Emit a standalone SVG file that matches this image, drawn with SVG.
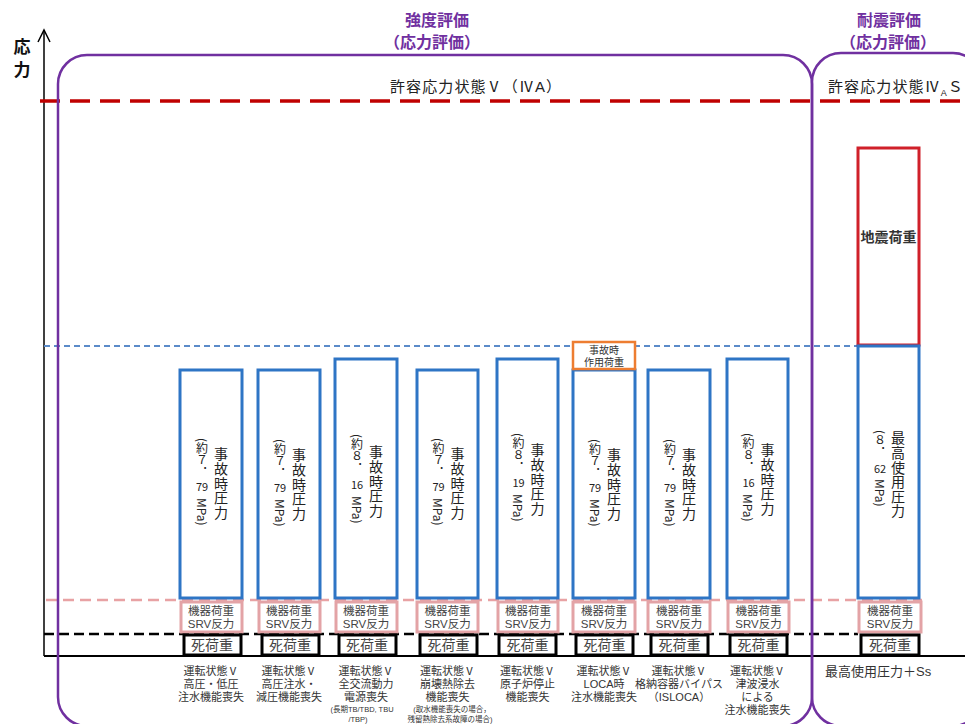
<svg xmlns="http://www.w3.org/2000/svg" width="965" height="724" viewBox="0 0 965 724">
<style>
text{font-family:"Liberation Sans","Noto Sans CJK JP","Noto Sans CJK SC",sans-serif;}
.bg{fill:#fff}
.bar{fill:#fff;stroke:#2E75C5;stroke-width:3}
.pk{fill:#fff;stroke:#E3A3A6;stroke-width:3}
.dl{fill:#fff;stroke:#000;stroke-width:3}
.pu{fill:none;stroke:#7030A0;stroke-width:2.5}
.hd{font-size:16px;font-weight:bold;fill:#7030A0;text-anchor:middle}
.vr{font-family:"Noto Sans CJK JP",sans-serif;writing-mode:vertical-rl;font-size:14px;letter-spacing:0.6px;fill:#222}
.vl{font-family:"Noto Sans CJK JP",sans-serif;writing-mode:vertical-rl;font-size:12px;fill:#222}
.hz{font-family:"Noto Sans CJK JP",sans-serif;font-size:11px;text-anchor:middle;dominant-baseline:central;fill:#222}
.pt{font-size:11.5px;text-anchor:middle;fill:#444}
.dt{font-size:14px;text-anchor:middle;fill:#444}
.lb{font-size:11px;text-anchor:middle;fill:#333}
.sm{font-size:7.5px;text-anchor:middle;fill:#333}
.lim{font-size:15px;letter-spacing:1.1px;fill:#222}
</style>
<rect class="bg" x="0" y="0" width="965" height="724"/>

<g id="guides">
  <path d="M44 656 V30" stroke="#000" stroke-width="1.5" fill="none"/>
  <polyline points="38,42 44,30 50,42" stroke="#000" stroke-width="1.5" fill="none"/>
  <path d="M44 656 H965" stroke="#000" stroke-width="2" fill="none"/>
  <path d="M40 101 H965" stroke="#C00000" stroke-width="3.5" stroke-dasharray="20 10" fill="none"/>
  <path d="M44 346 H858" stroke="#5B8BC9" stroke-width="2" stroke-dasharray="6 4" fill="none"/>
  <path d="M46 600 H922" stroke="#E8A2A4" stroke-width="2.5" stroke-dasharray="11 6" fill="none"/>
  <path d="M44 634 H858" stroke="#000" stroke-width="2.5" stroke-dasharray="10 5" fill="none"/>
</g>

<g id="axis-label">
  <text font-size="17" font-weight="bold" fill="#111" text-anchor="middle"><tspan x="22" y="53">応</tspan><tspan x="22" y="76">力</tspan></text>
</g>

<g id="frame-strength">
  <rect class="pu" x="58" y="55" width="754" height="671" rx="29"/>
  <text class="hd"><tspan x="437" y="26">強度評価</tspan><tspan x="432" y="48">（応力評価）</tspan></text>
  <text class="lim" x="390" y="92">許容応力状態Ⅴ（ⅣA）</text>
</g>

<g id="frame-seismic">
  <rect class="pu" x="812" y="53" width="170" height="673" rx="29"/>
  <text class="hd"><tspan x="889" y="26">耐震評価</tspan><tspan x="888" y="48">（応力評価）</tspan></text>
  <text class="lim" x="828" y="92">許容応力状態Ⅳ<tspan font-size="9" dy="4">A</tspan><tspan dy="-4">Ｓ</tspan></text>
</g>

<g id="case1">
  <rect class="bar" x="180" y="370" width="62" height="228"/>
  <text class="vr" x="221" y="447">事故時圧力</text>
  <text class="vl" x="202" y="438">(約７．</text>
  <text class="hz" x="202" y="486">79</text>
  <text class="vl" x="202" y="498">MPa)</text>
  <rect class="pk" x="181" y="602" width="61" height="30"/>
  <text class="pt"><tspan x="211" y="615">機器荷重</tspan><tspan x="211" y="628">SRV反力</tspan></text>
  <rect class="dl" x="184" y="635" width="57" height="20"/>
  <text class="dt" x="212" y="650">死荷重</text>
  <text class="lb"><tspan x="211" y="675">運転状態Ⅴ</tspan><tspan x="211" y="688">高圧・低圧</tspan><tspan x="211" y="701">注水機能喪失</tspan></text>
</g>

<g id="case2">
  <rect class="bar" x="258" y="370" width="62" height="228"/>
  <text class="vr" x="299" y="448">事故時圧力</text>
  <text class="vl" x="280" y="439">(約７．</text>
  <text class="hz" x="280" y="487">79</text>
  <text class="vl" x="280" y="499">MPa)</text>
  <rect class="pk" x="259" y="602" width="61" height="30"/>
  <text class="pt"><tspan x="289" y="615">機器荷重</tspan><tspan x="289" y="628">SRV反力</tspan></text>
  <rect class="dl" x="262" y="635" width="57" height="20"/>
  <text class="dt" x="290" y="650">死荷重</text>
  <text class="lb"><tspan x="289" y="675">運転状態Ⅴ</tspan><tspan x="289" y="688">高圧注水・</tspan><tspan x="289" y="701">減圧機能喪失</tspan></text>
</g>

<g id="case3">
  <rect class="bar" x="335" y="359" width="62" height="239"/>
  <text class="vr" x="376" y="445">事故時圧力</text>
  <text class="vl" x="357" y="434">(約８．</text>
  <text class="hz" x="357" y="484">16</text>
  <text class="vl" x="357" y="496">MPa)</text>
  <rect class="pk" x="336" y="602" width="61" height="30"/>
  <text class="pt"><tspan x="366" y="615">機器荷重</tspan><tspan x="366" y="628">SRV反力</tspan></text>
  <rect class="dl" x="339" y="635" width="57" height="20"/>
  <text class="dt" x="367" y="650">死荷重</text>
  <text class="lb"><tspan x="366" y="675">運転状態Ⅴ</tspan><tspan x="366" y="688">全交流動力</tspan><tspan x="366" y="701">電源喪失</tspan></text>
  <text class="sm"><tspan x="362" y="712">(長期TB/TBD, TBU</tspan><tspan x="358" y="722">/TBP)</tspan></text>
</g>

<g id="case4">
  <rect class="bar" x="417" y="370" width="61" height="228"/>
  <text class="vr" x="457.5" y="447">事故時圧力</text>
  <text class="vl" x="438.5" y="438">(約７．</text>
  <text class="hz" x="438.5" y="486">79</text>
  <text class="vl" x="438.5" y="498">MPa)</text>
  <rect class="pk" x="417" y="602" width="61" height="30"/>
  <text class="pt"><tspan x="447.5" y="615">機器荷重</tspan><tspan x="447.5" y="628">SRV反力</tspan></text>
  <rect class="dl" x="420" y="635" width="57" height="20"/>
  <text class="dt" x="448.5" y="650">死荷重</text>
  <text class="lb"><tspan x="447.5" y="675">運転状態Ⅴ</tspan><tspan x="447.5" y="688">崩壊熱除去</tspan><tspan x="447.5" y="701">機能喪失</tspan></text>
  <text class="sm"><tspan x="452" y="712">(取水機能喪失の場合，</tspan><tspan x="450" y="722">残留熱除去系故障の場合)</tspan></text>
</g>

<g id="case5">
  <rect class="bar" x="497" y="359" width="61" height="239"/>
  <text class="vr" x="537.5" y="443">事故時圧力</text>
  <text class="vl" x="518.5" y="433">(約８．</text>
  <text class="hz" x="518.5" y="482">19</text>
  <text class="vl" x="518.5" y="494">MPa)</text>
  <rect class="pk" x="498" y="602" width="60" height="30"/>
  <text class="pt"><tspan x="528" y="615">機器荷重</tspan><tspan x="528" y="628">SRV反力</tspan></text>
  <rect class="dl" x="499" y="635" width="57" height="20"/>
  <text class="dt" x="527.5" y="650">死荷重</text>
  <text class="lb"><tspan x="527.5" y="675">運転状態Ⅴ</tspan><tspan x="527.5" y="688">原子炉停止</tspan><tspan x="527.5" y="701">機能喪失</tspan></text>
</g>

<g id="case6">
  <rect class="bar" x="573" y="370" width="62" height="228"/>
  <rect x="573" y="342" width="62" height="27" fill="#fff" stroke="#ED7D31" stroke-width="2.5"/>
  <text font-size="10" text-anchor="middle" fill="#333"><tspan x="604" y="354">事故時</tspan><tspan x="604" y="366">作用荷重</tspan></text>
  <text class="vr" x="614" y="448">事故時圧力</text>
  <text class="vl" x="595" y="439">(約７．</text>
  <text class="hz" x="595" y="487">79</text>
  <text class="vl" x="595" y="499">MPa)</text>
  <rect class="pk" x="573" y="602" width="62" height="30"/>
  <text class="pt"><tspan x="604" y="615">機器荷重</tspan><tspan x="604" y="628">SRV反力</tspan></text>
  <rect class="dl" x="576" y="635" width="57" height="20"/>
  <text class="dt" x="604.5" y="650">死荷重</text>
  <text class="lb"><tspan x="604" y="675">運転状態Ⅴ</tspan><tspan x="604" y="688">LOCA時</tspan><tspan x="604" y="701">注水機能喪失</tspan></text>
</g>

<g id="case7">
  <rect class="bar" x="648" y="370" width="62" height="228"/>
  <text class="vr" x="689" y="448">事故時圧力</text>
  <text class="vl" x="670" y="439">(約７．</text>
  <text class="hz" x="670" y="487">79</text>
  <text class="vl" x="670" y="499">MPa)</text>
  <rect class="pk" x="648" y="602" width="62" height="30"/>
  <text class="pt"><tspan x="679" y="615">機器荷重</tspan><tspan x="679" y="628">SRV反力</tspan></text>
  <rect class="dl" x="651" y="635" width="57" height="20"/>
  <text class="dt" x="679.5" y="650">死荷重</text>
  <text class="lb"><tspan x="679" y="675">運転状態Ⅴ</tspan><tspan x="679" y="688">格納容器バイパス</tspan><tspan x="679" y="701">（ISLOCA）</tspan></text>
</g>

<g id="case8">
  <rect class="bar" x="727" y="359" width="61" height="239"/>
  <text class="vr" x="767.5" y="443">事故時圧力</text>
  <text class="vl" x="748.5" y="433">(約８．</text>
  <text class="hz" x="748.5" y="482">16</text>
  <text class="vl" x="748.5" y="494">MPa)</text>
  <rect class="pk" x="728" y="602" width="61" height="30"/>
  <text class="pt"><tspan x="758.5" y="615">機器荷重</tspan><tspan x="758.5" y="628">SRV反力</tspan></text>
  <rect class="dl" x="730" y="635" width="57" height="20"/>
  <text class="dt" x="758.5" y="650">死荷重</text>
  <text class="lb"><tspan x="757.5" y="675">運転状態Ⅴ</tspan><tspan x="757.5" y="688">津波浸水</tspan><tspan x="757.5" y="701">による</tspan><tspan x="757.5" y="714">注水機能喪失</tspan></text>
</g>

<g id="case-seismic">
  <rect x="858" y="148" width="61" height="197" fill="#fff" stroke="#D0202A" stroke-width="3"/>
  <text x="888.5" y="242" font-size="14" font-weight="bold" text-anchor="middle" fill="#333">地震荷重</text>
  <rect class="bar" x="858" y="346" width="61" height="252"/>
  <text class="vr" x="898" y="431">最高使用圧力</text>
  <text class="vl" x="880" y="430">(８．</text>
  <text class="hz" x="880" y="468">62</text>
  <text class="vl" x="880" y="479">MPa)</text>
  <rect class="pk" x="859" y="602" width="62" height="30"/>
  <text class="pt"><tspan x="890" y="615">機器荷重</tspan><tspan x="890" y="628">SRV反力</tspan></text>
  <rect class="dl" x="861" y="635" width="58" height="20"/>
  <text class="dt" x="890" y="650">死荷重</text>
  <text x="825" y="676" font-size="13" fill="#333">最高使用圧力＋Ss</text>
</g>
</svg>
